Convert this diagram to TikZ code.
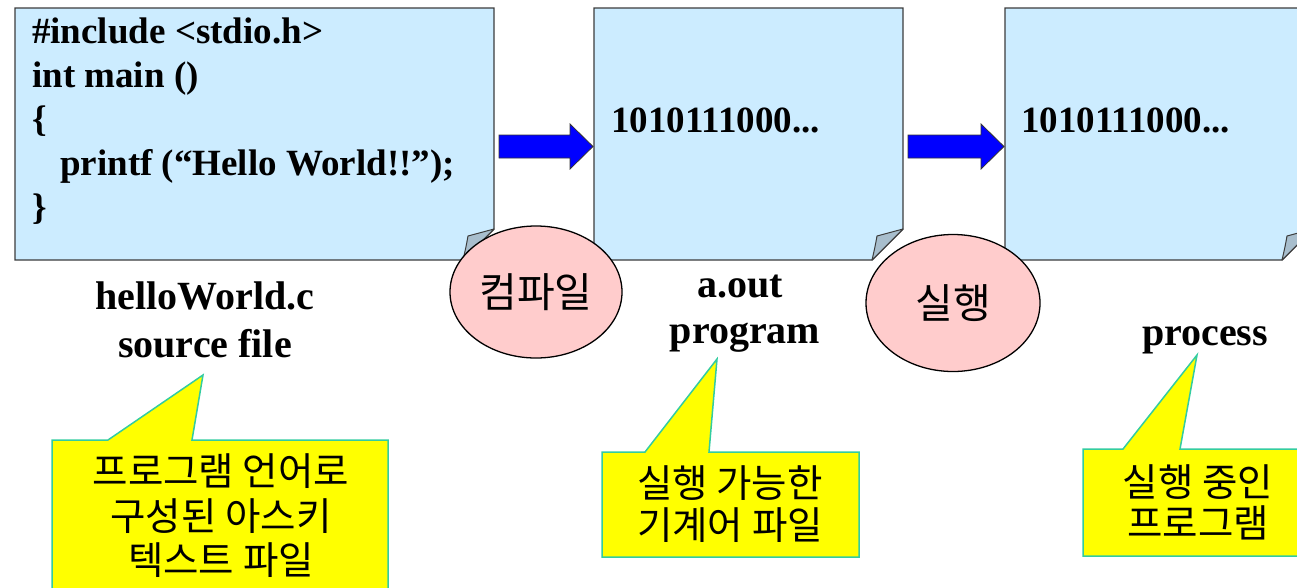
\documentclass[tikz,border=0pt]{standalone}
\usepackage{fontspec}
\setmainfont{Liberation Serif}
\newfontfamily\kr{Noto Sans CJK KR}
\usetikzlibrary{calc,shapes.geometric}
\definecolor{boxfill}{RGB}{204,236,255}
\definecolor{boxline}{RGB}{60,60,60}
\definecolor{flapfill}{RGB}{168,190,205}
\definecolor{ellfill}{RGB}{255,204,204}
\definecolor{callfill}{RGB}{255,255,0}
\definecolor{callline}{RGB}{51,204,160}
\definecolor{arrowblue}{RGB}{0,0,255}
\begin{document}
\begin{tikzpicture}[x=1pt,y=-1pt,
  filebox/.style={minimum width=#1, minimum height=252, inner sep=0pt, outer sep=0pt},
  fileline/.style={fill=boxfill, draw=boxline, line width=1.4pt},
  flapline/.style={fill=flapfill, draw=boxline, line width=1pt, line join=round},
  blockarr/.style={fill=arrowblue, draw=black!80, line width=0.8pt},
  ell/.style={ellipse, fill=ellfill, draw=black, line width=1.3pt, inner sep=0pt, font=\kr\fontsize{41}{46}\selectfont},
  lbl/.style={inner sep=0pt, font=\fontsize{40}{46}\selectfont\bfseries},
  code/.style={inner sep=0pt, anchor=base west, font=\fontsize{37}{44}\selectfont\bfseries},
  callbox/.style={inner sep=0pt, outer sep=0pt},
  callout/.style={fill=callfill, draw=callline, line width=1.5pt, line join=miter},
  calltext/.style={inner sep=0pt, anchor=base, font=\kr\fontsize{38.5}{44}\selectfont}
]
\useasboundingbox (0,0) rectangle (1297,587);
\clip (0,0) rectangle (1297,587);

\newcommand\drawfile[1]{%
  \draw[fileline] (#1.north west) -- (#1.north east) -- ($(#1.south east)+(0,-31)$)
    -- ($(#1.south east)+(-31,0)$) -- (#1.south west) -- cycle;
  \draw[flapline] ($(#1.south east)+(0,-31)$) -- ($(#1.south east)+(-26,-24)$)
    .. controls ($(#1.south east)+(-28,-13)$) .. ($(#1.south east)+(-31,0)$) -- cycle;
}
\newcommand\blockarrow[2]{%
  \draw[blockarr] ($(#1.east)+(5,1)$) -- ($(#2.west)+(-24,1)$) -- ($(#2.west)+(-24,-10)$)
    -- ($(#2.west)+(-1,12.5)$) -- ($(#2.west)+(-24,35)$) -- ($(#2.west)+(-24,24)$)
    -- ($(#1.east)+(5,24)$) -- cycle;
}

% file boxes
\node[filebox=479] (src) at (254.5,134) {};
\node[filebox=309] (prog) at (748.5,134) {};
\node[filebox=308] (proc) at (1159,134) {};
\drawfile{src}
\drawfile{prog}
\drawfile{proc}

% source code
\node[code] (l1) at (32,43) {\#include <stdio.h>};
\node[code] (l2) at (32,87) {int main ()};
\node[code] (l3) at (32,131) {\{};
\node[code] (l4) at (60,175) {printf (“Hello World!!”);};
\node[code] (l5) at (32,219) {\}};

\node[code] (bin1) at (611,132) {1010111000...};
\node[code] (bin2) at (1021,132) {1010111000...};

% block arrows
\blockarrow{src}{prog}
\blockarrow{prog}{proc}

% ellipses
\node[ell, minimum width=172, minimum height=132] (comp) at (536,292) {컴파일};
\node[ell, minimum width=174, minimum height=137] (run) at (953,303) {실행};

% labels
\node[lbl, anchor=base] (srcname) at (205,309) {helloWorld.c};
\node[lbl, anchor=base] (srckind) at (205,357) {source file};
\node[lbl, anchor=base] (progname) at (740,297) {a.out};
\node[lbl, anchor=base] (progkind) at (745,343) {program};
\node[lbl, anchor=base] (prockind) at (1205,345) {process};

% callouts
\coordinate (t1) at (203,375);
\coordinate (t2) at (717,359);
\coordinate (t3) at (1197,355);
\node[callbox, minimum width=336, minimum height=170] (c1) at (220,525) {};
\node[callbox, minimum width=257, minimum height=105] (c2) at (730.5,504.5) {};
\node[callbox, minimum width=230, minimum height=107] (c3) at (1198,502.5) {};
\draw[callout] (c1.north west) -- ($(c1.north west)+(56,0)$) -- (t1) -- ($(c1.north west)+(140,0)$)
  -- (c1.north east) -- (c1.south east) -- (c1.south west) -- cycle;
\draw[callout] (c2.north west) -- ($(c2.north west)+(43,0)$) -- (t2) -- ($(c2.north west)+(107,0)$)
  -- (c2.north east) -- (c2.south east) -- (c2.south west) -- cycle;
\draw[callout] (c3.north west) -- ($(c3.north west)+(40,0)$) -- (t3) -- ($(c3.north west)+(97,0)$)
  -- (c3.north east) -- (c3.south east) -- (c3.south west) -- cycle;

\node[calltext] (c1a) at (221,485) {프로그램 언어로};
\node[calltext] (c1b) at (221,530) {구성된 아스키};
\node[calltext] (c1c) at (221,574) {텍스트 파일};
\node[calltext] (c2a) at (730,497) {실행 가능한};
\node[calltext] (c2b) at (730,539) {기계어 파일};
\node[calltext] (c3a) at (1198,496) {실행 중인};
\node[calltext] (c3b) at (1198,537) {프로그램};
\end{tikzpicture}
\end{document}
